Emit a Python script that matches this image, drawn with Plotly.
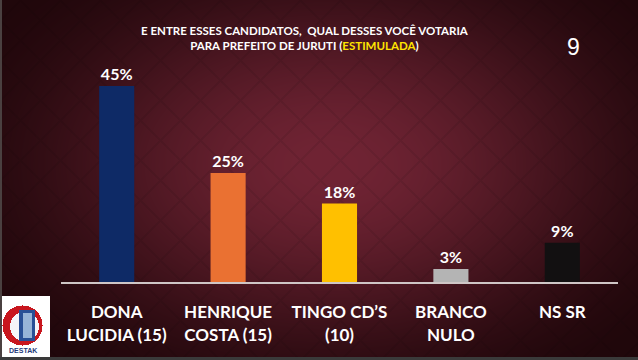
import base64
import struct
import zlib

import numpy as np
import plotly.graph_objects as go

# ---------------- data ----------------
categories = ["DONA<br>LUCIDIA (15)", "HENRIQUE<br>COSTA (15)", "TINGO CD’S<br>(10)",
              "BRANCO<br>NULO", "NS SR"]
values = [45, 25, 18, 3, 9]
value_labels = ["45%", "25%", "18%", "3%", "9%"]
bar_colors = ["#0E2A66", "#EA7132", "#FFC000", "#B4B4B4", "#121011"]
title_line1 = "E ENTRE ESSES CANDIDATOS,  QUAL DESSES VOCÊ VOTARIA"
title_line2_a = "PARA PREFEITO DE JURUTI ("
title_line2_b = "ESTIMULADA"
title_line2_c = ")"
slide_number = "9"

W, H = 638, 360


# ---------------- background picture (decoration) ----------------
def png_uri(arr):
    h, w, _ = arr.shape
    raw = b"".join(b"\x00" + arr[r].tobytes() for r in range(h))

    def chunk(tag, data):
        return (struct.pack(">I", len(data)) + tag + data
                + struct.pack(">I", zlib.crc32(tag + data) & 0xFFFFFFFF))

    png = (b"\x89PNG\r\n\x1a\n"
           + chunk(b"IHDR", struct.pack(">IIBBBBB", w, h, 8, 2, 0, 0, 0))
           + chunk(b"IDAT", zlib.compress(raw, 9))
           + chunk(b"IEND", b""))
    return "data:image/png;base64," + base64.b64encode(png).decode()


yy, xx = np.mgrid[0:H, 0:W].astype(float)
d = np.sqrt(((xx - 330) / 420) ** 2 + ((yy - 165) / 270) ** 2)
t = np.clip(d, 0, 1)
t = t * t * (3 - 2 * t)
c_center = np.array([112, 36, 52], float)
c_edge = np.array([32, 7, 11], float)
img = c_center * (1 - t[..., None]) + c_edge * t[..., None]
# faint diamond texture
pat = (np.abs(((xx + yy) % 40) - 20) < 1.2) | (np.abs(((xx - yy) % 40) - 20) < 1.2)
img[pat] *= 0.93
# frame strips
img[:, :2] = [74, 64, 64]
img[357:, :] = [58, 58, 58]
# logo
img[296:357, 2:50] = [255, 255, 255]
r1 = np.sqrt((xx - 22) ** 2 + (yy - 325) ** 2)
img[r1 <= 20] = [200, 22, 30]
r2 = np.sqrt((xx - 24) ** 2 + (yy - 326) ** 2)
img[r2 <= 14.5] = [245, 245, 248]
box = (xx >= 19) & (xx <= 34) & (yy >= 310) & (yy <= 340)
img[box] = [40, 80, 150]
inner = (xx >= 23) & (xx <= 31) & (yy >= 313) & (yy <= 337)
img[inner] = [150, 180, 215]
img = np.clip(img, 0, 255).astype(np.uint8)
bg_uri = png_uri(img)

# ---------------- figure ----------------
fig = go.Figure(
    go.Bar(
        x=categories,
        y=values,
        marker=dict(color=bar_colors, line=dict(width=0)),
        width=0.315,
        text=value_labels,
        textposition="outside",
        constraintext="none",
        cliponaxis=False,
        textfont=dict(family="Lato", size=16, color="white", weight=700),
        hoverinfo="skip",
    )
)

fig.update_layout(
    width=W,
    height=H,
    autosize=False,
    margin=dict(l=0, r=0, t=0, b=0),
    paper_bgcolor="#200608",
    plot_bgcolor="rgba(0,0,0,0)",
    showlegend=False,
    images=[dict(source=bg_uri, xref="paper", yref="paper", x=0, y=1,
                 sizex=1, sizey=1, sizing="stretch", layer="below",
                 xanchor="left", yanchor="top")],
    xaxis=dict(
        domain=[61 / W, 618 / W],
        showline=True,
        linecolor="#CFC6C6",
        linewidth=2,
        showgrid=False,
        zeroline=False,
        ticks="outside",
        ticklen=14,
        tickcolor="rgba(0,0,0,0)",
        tickfont=dict(family="Lato", size=17, color="white", weight=700),
        fixedrange=True,
    ),
    yaxis=dict(
        domain=[1 - 282 / H, 1 - 64.2 / H],
        range=[0, 50],
        visible=False,
        fixedrange=True,
    ),
    annotations=[
        dict(
            text="<b>" + title_line1 + "<br>" + title_line2_a
                 + "<span style='color:#FFE500'>" + title_line2_b + "</span>"
                 + title_line2_c + "</b>",
            xref="paper", yref="paper", x=305 / W, y=1 - 38 / H,
            xanchor="center", yanchor="middle", showarrow=False,
            font=dict(family="Lato", size=11.5, color="white"),
        ),
        dict(
            text=slide_number,
            xref="paper", yref="paper", x=573.5 / W, y=1 - 47.5 / H,
            xanchor="center", yanchor="middle", showarrow=False,
            font=dict(family="Liberation Sans", size=23, color="white"),
        ),
        dict(
            text="<b>DESTAK</b>",
            xref="paper", yref="paper", x=23 / W, y=1 - 350 / H,
            xanchor="center", yanchor="middle", showarrow=False,
            font=dict(family="Liberation Sans Narrow, Liberation Sans", size=7, color="#1F3A7A"),
        ),
    ],
)

fig.write_html("out.html", config={"displayModeBar": False},
               post_script="document.body.style.margin='0';")
